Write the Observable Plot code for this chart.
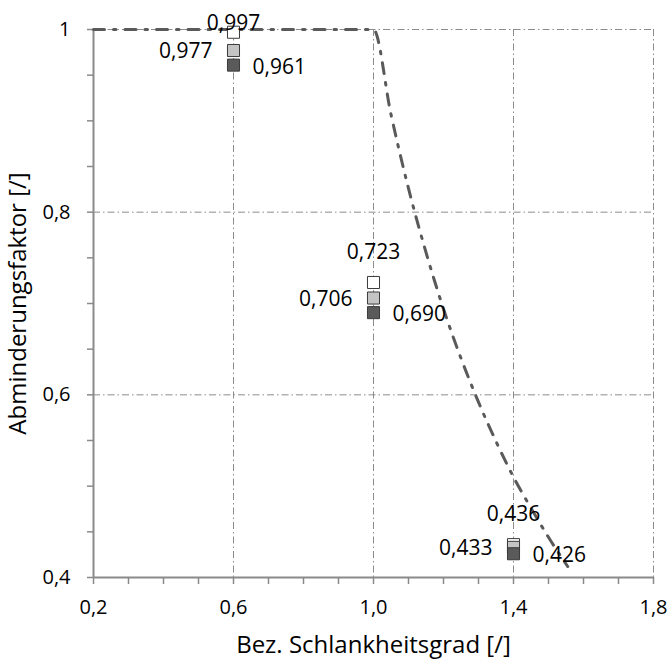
<!DOCTYPE html>
<html><head><meta charset="utf-8">
<script src="https://cdn.jsdelivr.net/npm/d3@7"></script>
<script src="https://cdn.jsdelivr.net/npm/@observablehq/plot@0.6"></script>
<style>body{margin:0;background:#fff} #chart svg{display:block}</style>
</head><body><div id="chart"></div>
<script>
// Data
const slenderness = [0.6, 1.0, 1.4];
const seriesA = [0.997, 0.723, 0.436]; // white squares
const seriesB = [0.977, 0.706, 0.433]; // light grey squares
const seriesC = [0.961, 0.690, 0.426]; // dark grey squares
const curveX = [0.2, 1.0, 1.05, 1.1, 1.15, 1.2, 1.25, 1.3, 1.35, 1.4, 1.45, 1.5, 1.555];
const curveY = [1.0, 1.0, 0.907, 0.826, 0.756, 0.694, 0.640, 0.592, 0.549, 0.510, 0.476, 0.444, 0.412];
const xTicks = [0.2, 0.6, 1.0, 1.4, 1.8];
const xTickLabels = ["0,2", "0,6", "1,0", "1,4", "1,8"];
const yTicks = [0.4, 0.6, 0.8, 1.0];
const yTickLabels = ["0,4", "0,6", "0,8", "1"];
const xMinor = [0.2, 0.3, 0.4, 0.5, 0.6, 0.7, 0.8, 0.9, 1.0, 1.1, 1.2, 1.3, 1.4, 1.5, 1.6, 1.7, 1.8];
const yMinor = [0.4, 0.45, 0.5, 0.55, 0.6, 0.65, 0.7, 0.75, 0.8, 0.85, 0.9, 0.95, 1.0];
const xTitle = "Bez. Schlankheitsgrad [/]";
const yTitle = "Abminderungsfaktor [/]";

// Layout (label offsets for the upper labels, px)
const aboveDy = [-9, -30, -30];

const fmt = v => d3.format(".3f")(v).replace(".", ",");
const pts = (ys) => slenderness.map((x, i) => ({x, y: ys[i], i}));
const curve = curveX.map((x, i) => ({x, y: curveY[i]}));

const axisGrey = "#8a8a8a";
const gridGrey = "#8c8c8c";

const chart = Plot.plot({
  width: 667,
  height: 659,
  marginLeft: 93,
  marginRight: 14,
  marginTop: 29,
  marginBottom: 82,
  style: {fontFamily: "'Open Sans', sans-serif", background: "#fff", overflow: "visible"},
  x: {domain: [0.2, 1.8], axis: null},
  y: {domain: [0.4, 1.0], axis: null},
  marks: [
    Plot.ruleX(xTicks.slice(1), {stroke: gridGrey, strokeWidth: 1, strokeDasharray: "7,3,1.5,3"}),
    Plot.ruleY(yTicks.slice(1), {stroke: gridGrey, strokeWidth: 1, strokeDasharray: "7,3,1.5,3"}),
    Plot.axisX(xMinor, {tickSize: 7, tickFormat: () => "", label: null, stroke: axisGrey, strokeWidth: 1.5}),
    Plot.axisY(yMinor, {tickSize: 6, tickFormat: () => "", label: null, stroke: axisGrey, strokeWidth: 1.5}),
    Plot.ruleX([0.2], {stroke: axisGrey, strokeWidth: 2}),
    Plot.ruleY([0.4], {stroke: axisGrey, strokeWidth: 2}),
    Plot.line(curve, {x: "x", y: "y", curve: "monotone-x", stroke: "#5a5a5a", strokeWidth: 3, strokeDasharray: "11,9,2.5,9"}),
    Plot.dot(pts(seriesA), {x: "x", y: "y", symbol: "square", r: 6.8, fill: "#ffffff", stroke: "#3a3a3a", strokeWidth: 1}),
    Plot.dot(pts(seriesB), {x: "x", y: "y", symbol: "square", r: 6.8, fill: "#c4c4c4", stroke: "#3a3a3a", strokeWidth: 1}),
    Plot.dot(pts(seriesC), {x: "x", y: "y", symbol: "square", r: 6.8, fill: "#5a5a5a", stroke: "#3a3a3a", strokeWidth: 1}),
    ...pts(seriesA).map(d => Plot.text([d], {x: "x", y: "y", text: d => fmt(d.y), dy: aboveDy[d.i], fontSize: 21, fill: "#000"})),
    Plot.text(pts(seriesB), {x: "x", y: "y", text: d => fmt(d.y), dx: -21, dy: 1, textAnchor: "end", fontSize: 21, fill: "#000"}),
    Plot.text(pts(seriesC), {x: "x", y: "y", text: d => fmt(d.y), dx: 19, dy: 2, textAnchor: "start", fontSize: 21, fill: "#000"}),
    Plot.text(xTicks, {x: d => d, text: (d, i) => xTickLabels[i], frameAnchor: "bottom", lineAnchor: "middle", textAnchor: "middle", dy: 30, fontSize: 20, fill: "#000"}),
    Plot.text(yTicks, {y: d => d, text: (d, i) => yTickLabels[i], frameAnchor: "left", lineAnchor: "middle", dx: -23, textAnchor: "end", fontSize: 20, fill: "#000"}),
    Plot.text([xTitle], {text: d => d, frameAnchor: "bottom", lineAnchor: "middle", textAnchor: "middle", dy: 68, fontSize: 24, fill: "#000"}),
    Plot.text([yTitle], {text: d => d, frameAnchor: "left", lineAnchor: "middle", textAnchor: "middle", dx: -75, rotate: -90, fontSize: 24, fill: "#000"})
  ]
});
document.getElementById("chart").appendChild(chart);
</script>
</body></html>
